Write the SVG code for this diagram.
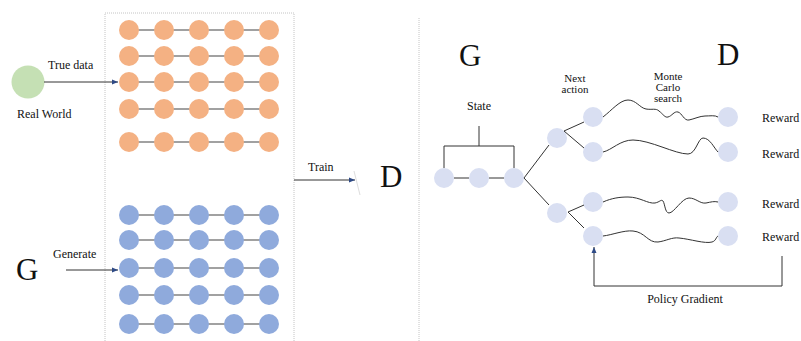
<svg xmlns="http://www.w3.org/2000/svg" width="801" height="341" viewBox="0 0 801 341">
  <style>
    text { font-family: "Liberation Serif", "Times New Roman", serif; fill: #111; }
    .lbl { font-size: 12px; }
    .sm { font-size: 11px; }
    .big { font-size: 31px; }
    .real { fill: #f4b183; }
    .fake { fill: #8faadc; }
    .st { fill: #d9dff2; }
    .link { stroke: #444; stroke-width: 1.2; fill: none; }
    .edge { stroke: #333; stroke-width: 1; fill: none; }
    .frame { stroke: #c4c4c4; stroke-width: 1; stroke-dasharray: 1 1; fill: none; }
  </style>
  <defs>
    <marker id="arr" viewBox="0 0 6 6" refX="6" refY="3" markerWidth="6" markerHeight="6" orient="auto" markerUnits="userSpaceOnUse">
      <path d="M0,0.5 L6,3 L0,5.5 z" fill="#2e4a86"/>
    </marker>
  </defs>
  <rect width="801" height="341" fill="#fff"/>

  <!-- training set frame and divider -->
  <path class="frame" d="M105,345 V13 H294 V345"/>
  <line class="frame" x1="419" y1="18" x2="419" y2="341"/>

  <!-- real-world sequences -->
  <g id="real-data">
    <g class="link">
      <line x1="129" y1="30" x2="269" y2="30"/>
      <line x1="129" y1="56" x2="269" y2="56"/>
      <line x1="129" y1="82" x2="269" y2="82"/>
      <line x1="129" y1="109" x2="269" y2="109"/>
      <line x1="129" y1="142" x2="269" y2="142"/>
    </g>
    <g class="real">
      <circle cx="129" cy="30" r="10"/><circle cx="164" cy="30" r="10"/><circle cx="199" cy="30" r="10"/><circle cx="234" cy="30" r="10"/><circle cx="269" cy="30" r="10"/>
      <circle cx="129" cy="56" r="10"/><circle cx="164" cy="56" r="10"/><circle cx="199" cy="56" r="10"/><circle cx="234" cy="56" r="10"/><circle cx="269" cy="56" r="10"/>
      <circle cx="129" cy="82" r="10"/><circle cx="164" cy="82" r="10"/><circle cx="199" cy="82" r="10"/><circle cx="234" cy="82" r="10"/><circle cx="269" cy="82" r="10"/>
      <circle cx="129" cy="109" r="10"/><circle cx="164" cy="109" r="10"/><circle cx="199" cy="109" r="10"/><circle cx="234" cy="109" r="10"/><circle cx="269" cy="109" r="10"/>
      <circle cx="129" cy="142" r="10"/><circle cx="164" cy="142" r="10"/><circle cx="199" cy="142" r="10"/><circle cx="234" cy="142" r="10"/><circle cx="269" cy="142" r="10"/>
    </g>
  </g>

  <!-- generated sequences -->
  <g id="generated-data">
    <g class="link">
      <line x1="129" y1="215" x2="269" y2="215"/>
      <line x1="129" y1="240" x2="269" y2="240"/>
      <line x1="129" y1="268" x2="269" y2="268"/>
      <line x1="129" y1="295" x2="269" y2="295"/>
      <line x1="129" y1="324" x2="269" y2="324"/>
    </g>
    <g class="fake">
      <circle cx="129" cy="215" r="10"/><circle cx="164" cy="215" r="10"/><circle cx="199" cy="215" r="10"/><circle cx="234" cy="215" r="10"/><circle cx="269" cy="215" r="10"/>
      <circle cx="129" cy="240" r="10"/><circle cx="164" cy="240" r="10"/><circle cx="199" cy="240" r="10"/><circle cx="234" cy="240" r="10"/><circle cx="269" cy="240" r="10"/>
      <circle cx="129" cy="268" r="10"/><circle cx="164" cy="268" r="10"/><circle cx="199" cy="268" r="10"/><circle cx="234" cy="268" r="10"/><circle cx="269" cy="268" r="10"/>
      <circle cx="129" cy="295" r="10"/><circle cx="164" cy="295" r="10"/><circle cx="199" cy="295" r="10"/><circle cx="234" cy="295" r="10"/><circle cx="269" cy="295" r="10"/>
      <circle cx="129" cy="324" r="10"/><circle cx="164" cy="324" r="10"/><circle cx="199" cy="324" r="10"/><circle cx="234" cy="324" r="10"/><circle cx="269" cy="324" r="10"/>
    </g>
  </g>

  <g id="real-world">
    <circle cx="28" cy="82" r="16.5" fill="#c5e0b4"/>
    <text class="lbl" x="17" y="118">Real World</text>
  </g>

  <g id="generator-left">
    <text class="big" x="16" y="280">G</text>
  </g>

  <g id="discriminator-left">
    <text class="big" x="380" y="187">D</text>
  </g>

  <!-- right panel: sequence generation as a decision process -->
  <g id="generator-right"><text class="big" x="459" y="66">G</text></g>
  <g id="discriminator-right"><text class="big" x="717" y="65">D</text></g>

  <g id="state">
    <circle class="st" cx="444" cy="178" r="10"/>
    <circle class="st" cx="479" cy="178" r="10"/>
    <circle class="st" cx="514" cy="178" r="10"/>
    <text class="lbl" x="479" y="110" text-anchor="middle">State</text>
  </g>

  <g id="next-action">
    <circle class="st" cx="557" cy="138" r="10"/>
    <circle class="st" cx="557" cy="213" r="10"/>
    <text class="sm" x="575" y="82" text-anchor="middle">Next</text>
    <text class="sm" x="575" y="93" text-anchor="middle">action</text>
  </g>

  <g id="rollout-start">
    <circle class="st" cx="593" cy="117" r="10"/>
    <circle class="st" cx="593" cy="152" r="10"/>
    <circle class="st" cx="593" cy="202" r="10"/>
    <circle class="st" cx="593" cy="236" r="10"/>
  </g>

  <g id="rollout-end">
    <circle class="st" cx="728" cy="117" r="10"/>
    <circle class="st" cx="728" cy="152" r="10"/>
    <circle class="st" cx="728" cy="202" r="10"/>
    <circle class="st" cx="728" cy="236" r="10"/>
    <text class="sm" x="668" y="80" text-anchor="middle">Monte</text>
    <text class="sm" x="668" y="91" text-anchor="middle">Carlo</text>
    <text class="sm" x="668" y="102" text-anchor="middle">search</text>
  </g>

  <g id="rewards">
    <text class="lbl" x="762" y="122">Reward</text>
    <text class="lbl" x="762" y="158">Reward</text>
    <text class="lbl" x="762" y="208">Reward</text>
    <text class="lbl" x="762" y="241">Reward</text>
  </g>

  <g id="connectors">
    <!-- left panel -->
    <line class="edge" x1="44" y1="82" x2="118" y2="82" marker-end="url(#arr)"/>
    <text class="lbl" x="48" y="69">True data</text>
    <line class="edge" x1="66" y1="270" x2="118" y2="270" marker-end="url(#arr)"/>
    <text class="lbl" x="53" y="258">Generate</text>
    <line class="edge" x1="294" y1="180" x2="355" y2="180" stroke="#666" marker-end="url(#arr)"/>
    <text class="lbl" x="308" y="171">Train</text>
    <line x1="354" y1="171" x2="360" y2="195" stroke="#ddd" stroke-width="1"/>

    <!-- state bracket -->
    <path class="edge" stroke="#555" d="M479,126 V146 M444,168 V146 H514 V168"/>
    <line class="edge" stroke="#555" x1="454" y1="178" x2="469" y2="178"/>
    <line class="edge" stroke="#555" x1="489" y1="178" x2="504" y2="178"/>

    <!-- branching -->
    <line class="edge" x1="524" y1="178" x2="549" y2="145"/>
    <line class="edge" x1="524" y1="178" x2="549" y2="205"/>
    <line class="edge" x1="564" y1="131" x2="584" y2="122"/>
    <line class="edge" x1="564" y1="131" x2="584" y2="148"/>
    <line class="edge" x1="568" y1="212" x2="584" y2="205"/>
    <line class="edge" x1="568" y1="212" x2="584" y2="228"/>

    <!-- rollouts -->
    <path class="edge" d="M603,117 C612,110 620,100 628,100 C636,100 640,108 646,109 C652,110 656,108 659,111 C663,114 665,118 668,117 C672,116 674,111 678,112 C682,113 684,121 689,120 C694,119 700,116 705,116 C710,116 715,115 718,117"/>
    <path class="edge" d="M603,152 C612,150 620,140 633,140 C650,140 675,154 688,154 C696,154 698,138 703,138 C710,138 714,148 718,152"/>
    <path class="edge" d="M603,202 C612,198 620,197 628,197 C640,197 648,204 655,203 C660,202 661,199 663,201 C665,204 665,213 669,213 C674,213 682,198 689,198 C696,198 700,204 706,203 C711,202 714,201 718,202"/>
    <path class="edge" d="M603,236 C612,235 624,230 633,231 C645,232 648,243 658,242 C666,241 672,237 679,238 C690,239 705,244 712,242 C716,241 716,237 718,236"/>

    <!-- policy gradient feedback -->
    <path class="edge" d="M782,256 V286 H594 V247" marker-end="url(#arr)"/>
    <text class="lbl" x="685" y="303" text-anchor="middle">Policy Gradient</text>
  </g>
</svg>
